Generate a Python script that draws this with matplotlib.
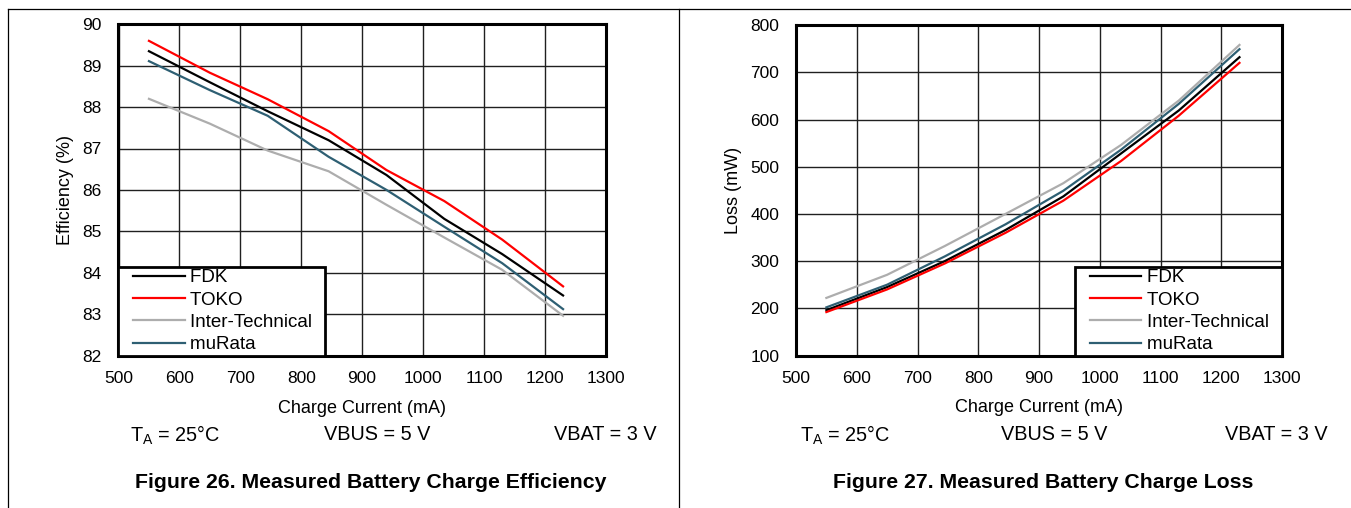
import matplotlib
matplotlib.use('Agg')
import matplotlib.pyplot as plt
from matplotlib.lines import Line2D
from matplotlib.legend_handler import HandlerLine2D

plt.rcParams['font.family'] = ['Liberation Sans', 'DejaVu Sans']
plt.rcParams['mathtext.default'] = 'regular'

# charge current points (mA), shared by every series
current_ma = [550, 650, 745, 845, 940, 1035, 1130, 1230]

# efficiency (%)
eff_fdk = [89.35, 88.6, 87.9, 87.2, 86.36, 85.3, 84.45, 83.45]
eff_toko = [89.6, 88.83, 88.19, 87.42, 86.48, 85.73, 84.8, 83.67]
eff_inter = [88.2, 87.6, 86.95, 86.45, 85.64, 84.85, 84.07, 82.96]
eff_murata = [89.11, 88.41, 87.79, 86.8, 86.0, 85.11, 84.23, 83.12]

# loss (mW)
loss_fdk = [196, 245, 300, 366, 437, 528, 619, 732]
loss_toko = [192, 240, 295, 360, 428, 512, 608, 720]
loss_inter = [222, 271, 332, 400, 465, 546, 640, 758]
loss_murata = [202, 250, 310, 378, 449, 536, 633, 749]

names = ['FDK', 'TOKO', 'Inter-Technical', 'muRata']
colors = ['#000000', '#FF0000', '#ADADAD', '#2E5F73']

x_ticks = [500, 600, 700, 800, 900, 1000, 1100, 1200, 1300]

fig = plt.figure(figsize=(13.51, 5.08), dpi=100)
W, H = 1351.0, 508.0

# table-like frame lines
for (x0, y0, x1, y1) in [(8, 9, 1351, 9), (8, 9, 8, 508), (679, 9, 679, 508)]:
    fig.add_artist(Line2D([x0 / W, x1 / W], [1 - y0 / H, 1 - y1 / H],
                          color='black', lw=0.9, transform=fig.transFigure))


def make_axes(left_px, right_px, top_px, bottom_px):
    return fig.add_axes([left_px / W, 1 - bottom_px / H,
                         (right_px - left_px) / W, (bottom_px - top_px) / H])


def style(ax, ylabel, ylabel_x, legend_loc, anchor):
    ax.set_xlim(500, 1300)
    ax.set_xticks(x_ticks)
    ax.grid(True, color='#202020', lw=1.0)
    ax.set_axisbelow(True)
    for s in ax.spines.values():
        s.set_linewidth(2.2)
        s.set_color('black')
    ax.tick_params(axis='both', length=0, labelsize=12.5, colors='black')
    ax.tick_params(axis='y', pad=12)
    ax.tick_params(axis='x', pad=11.5)
    ax.set_xlabel('Charge Current (mA)', fontsize=13)
    ax.xaxis.set_label_coords(0.5, -0.133)
    ax.set_ylabel(ylabel, fontsize=13)
    ax.yaxis.set_label_coords(ylabel_x, 0.5)
    handles, labels = ax.get_legend_handles_labels()
    labels = [l + '  ' for l in labels]
    leg = ax.legend(handles, labels, loc=legend_loc, bbox_to_anchor=anchor,
                    borderaxespad=0, fontsize=13.5, handlelength=3.4,
                    handletextpad=0.3, borderpad=0.13, labelspacing=0.27,
                    fancybox=False, edgecolor='black', framealpha=1,
                    handler_map={Line2D: HandlerLine2D(xpad=0.65)})
    leg.get_frame().set_linewidth(2)


# left: efficiency
ax1 = make_axes(118.5, 605.7, 24.3, 355.5)
for ys, n, c in zip([eff_fdk, eff_toko, eff_inter, eff_murata], names, colors):
    ax1.plot(current_ma, ys, color=c, lw=1.6, label=n)
ax1.set_ylim(82, 90)
ax1.set_yticks(range(82, 91))
style(ax1, 'Efficiency (%)', -0.092, 'lower left', (0, 0))

# right: loss
ax2 = make_axes(796, 1282, 25.1, 355.5)
for ys, n, c in zip([loss_fdk, loss_toko, loss_inter, loss_murata], names, colors):
    ax2.plot(current_ma, ys, color=c, lw=1.6, label=n)
ax2.set_ylim(100, 800)
ax2.set_yticks(range(100, 801, 100))
style(ax2, 'Loss (mW)', -0.111, 'lower right', (1, 0))

# conditions and captions
cond = ['T$_{A}$ = 25°C', 'VBUS = 5 V', 'VBAT = 3 V']
for xs in [(130, 377, 657), (800, 1054, 1328)]:
    fig.text(xs[0] / W, 1 - 435 / H, cond[0], fontsize=14.3, ha='left', va='center')
    fig.text(xs[1] / W, 1 - 435 / H, cond[1], fontsize=14.3, ha='center', va='center')
    fig.text(xs[2] / W, 1 - 435 / H, cond[2], fontsize=14.3, ha='right', va='center')

fig.text(371 / W, 1 - 483 / H, 'Figure 26. Measured Battery Charge Efficiency',
         fontsize=15.3, fontweight='bold', ha='center', va='center')
fig.text(1043 / W, 1 - 483 / H, 'Figure 27. Measured Battery Charge Loss',
         fontsize=15.3, fontweight='bold', ha='center', va='center')

fig.savefig('out.png', dpi=100)
